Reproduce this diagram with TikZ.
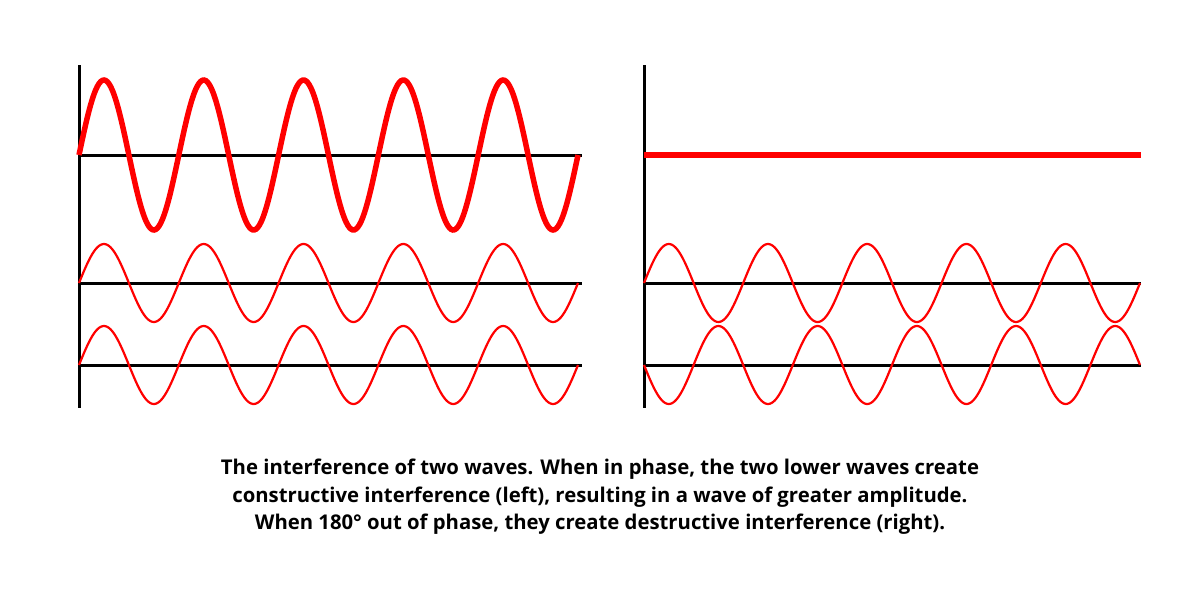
\documentclass[tikz,border=0pt]{standalone}
\usepackage{fontspec}
\setmainfont{Open Sans}
\begin{document}
\begin{tikzpicture}[x=1pt,y=-1pt,
  axis/.style={black,line width=3pt},
  thickwave/.style={red,line width=5.5pt},
  thinwave/.style={red,line width=2.2pt}]
\useasboundingbox (0,0) rectangle (1200,600);
% left panel
\draw[axis] (79,65) -- (79,408);
\draw[axis] (79,155) -- (582,155);
\draw[axis] (79,283) -- (582,283);
\draw[axis] (79,365) -- (582,365);
\draw[thickwave] plot[domain=79:578,samples=300,smooth] (\x,{155-75*sin((\x-79)/99.8*360)});
\draw[thinwave] plot[domain=79:578,samples=300,smooth] (\x,{283-39*sin((\x-79)/99.8*360)});
\draw[thinwave] plot[domain=79:578,samples=300,smooth] (\x,{365-39*sin((\x-79)/99.8*360)});
% right panel
\draw[axis] (644,65) -- (644,408);
\draw[axis] (644,283) -- (1141,283);
\draw[axis] (644,365) -- (1141,365);
\draw[thickwave] (644,155) -- (1141,155);
\draw[thinwave] plot[domain=644:1140,samples=300,smooth] (\x,{283-39*sin((\x-644)/99.2*360)});
\draw[thinwave] plot[domain=644:1140,samples=300,smooth] (\x,{365+39*sin((\x-644)/99.2*360)});
% caption
\node[font=\bfseries\fontsize{20.3}{27.5}\selectfont,align=center,text=black] (cap) at (600,497)
{The interference of two waves. When in phase, the two lower waves create\\
constructive interference (left), resulting in a wave of greater amplitude.\\
When 180° out of phase, they create destructive interference (right).};
\end{tikzpicture}
\end{document}
